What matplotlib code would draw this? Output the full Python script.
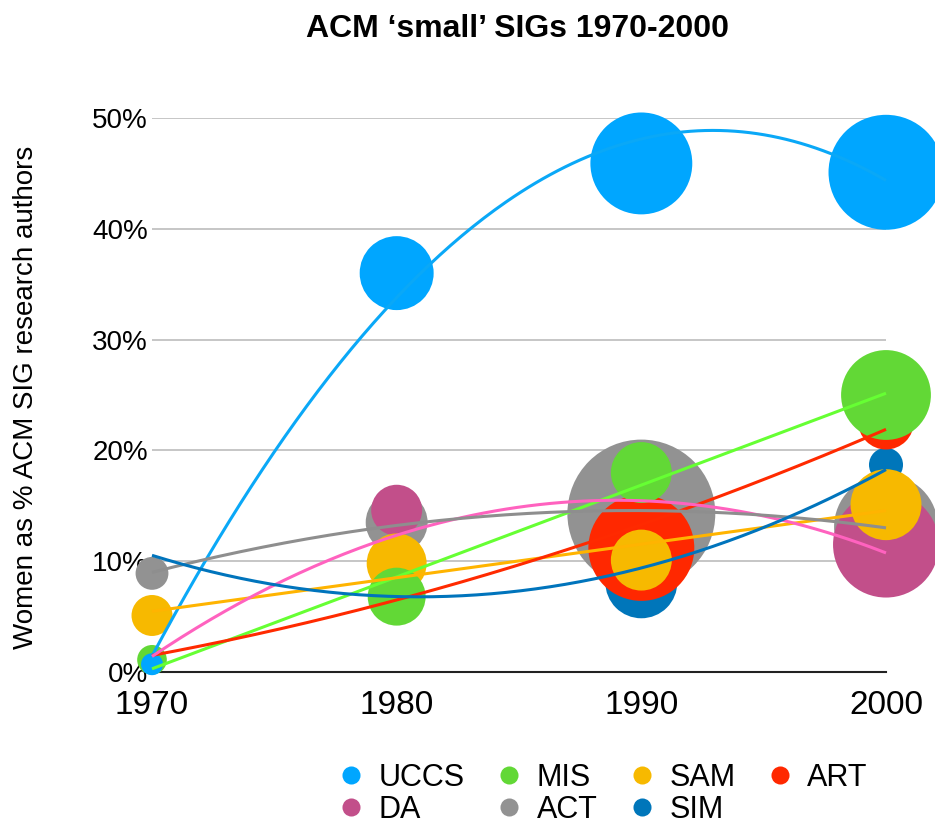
import numpy as np
import matplotlib
matplotlib.use("Agg")
import matplotlib.pyplot as plt
from matplotlib.lines import Line2D

plt.rcParams['font.family'] = ['Liberation Sans', 'DejaVu Sans']

# data: share of women (%) and relative bubble size (authors) per decade
years = [1970, 1980, 1990, 2000]
series_names = ["UCCS", "MIS", "SAM", "ART", "DA", "ACT", "SIM"]

uccs_pct = [0.7, 36.0, 45.9, 45.1]
mis_pct = [1.1, 6.8, 18.0, 25.0]
sam_pct = [5.1, 9.8, 10.1, 15.1]
art_pct = [0.8, 8.6, 11.2, 22.6]
da_pct = [0.65, 14.6, 13.2, 11.5]
act_pct = [8.9, 13.5, 14.3, 13.1]
sim_pct = [10.1, 8.1, 8.1, 18.7]

uccs_size = [12, 137, 260, 331]
mis_size = [22, 84, 93, 202]
sam_size = [42, 90, 93, 126]
art_size = [6, 20, 281, 78]
da_size = [6, 65, 22, 281]
act_size = [27, 96, 548, 270]
sim_size = [1, 20, 130, 29]

title = "ACM \u2018small\u2019 SIGs 1970-2000"
y_label = "Women as % ACM SIG research authors"
y_ticks = [0, 10, 20, 30, 40, 50]

pcts = [uccs_pct, mis_pct, sam_pct, art_pct, da_pct, act_pct, sim_pct]
sizes = [uccs_size, mis_size, sam_size, art_size, da_size, act_size, sim_size]

BUBBLE_COLORS = ["#00A6FF", "#62D836", "#F7B900", "#FF2800", "#C24F8A", "#929292", "#0076BA"]
LINE_COLORS = ["#0AA8F7", "#66FF33", "#FFB400", "#FF2A00", "#FF62BF", "#8E8E8E", "#0074BC"]
TREND_DEG = [2, 1, 1, 2, 2, 2, 2]
BUBBLE_SCALE = 20.7

fig = plt.figure(figsize=(9.35, 8.23), dpi=100)
ax = fig.add_axes([152 / 935, 1 - 672 / 823, 734 / 935, 554 / 823])

x = np.array(years, dtype=float)
xs = np.linspace(years[0], years[-1], 200)
n = len(series_names)
for i in range(n):
    ax.scatter(x, pcts[i], s=np.array(sizes[i]) * BUBBLE_SCALE,
               color=BUBBLE_COLORS[i], linewidths=0, zorder=10 - i, clip_on=False)
    coef = np.polyfit(x - 1985, pcts[i], TREND_DEG[i])
    ax.plot(xs, np.polyval(coef, xs - 1985), color=LINE_COLORS[i], lw=2.2,
            zorder=20, solid_capstyle='butt', clip_on=False)

ax.set_xlim(years[0], years[-1])
ax.set_ylim(0, 50)
ax.set_xticks(years)
ax.set_xticklabels([str(y) for y in years])
ax.set_yticks(y_ticks)
ax.set_yticklabels([f"{v}%" for v in y_ticks])
ax.tick_params(axis='x', length=0, labelsize=24, pad=13)
ax.tick_params(axis='y', length=0, labelsize=20, pad=3)
ax.yaxis.grid(True, color='#c6c6c6', lw=1.4)
ax.set_axisbelow(True)
for side in ['top', 'right', 'left']:
    ax.spines[side].set_visible(False)
ax.spines['bottom'].set_color('#222222')
ax.spines['bottom'].set_linewidth(1.5)
ax.spines['bottom'].set_zorder(1)

fig.text(518 / 935, 1 - 29 / 823, title, ha='center', va='center',
         fontsize=23, fontweight='bold')
fig.text(26 / 935, 1 - 397 / 823, y_label, ha='center', va='center',
         rotation=90, fontsize=20)

# legend fills column-wise, so reorder to get rows UCCS MIS SAM ART / DA ACT SIM
order = [0, 4, 1, 5, 2, 6, 3]
handles = [Line2D([], [], ls='none', marker='o', markersize=13,
                  markerfacecolor=BUBBLE_COLORS[k], markeredgewidth=0) for k in order]
labels = [series_names[k] for k in order]
fig.legend(handles, labels, ncol=4, loc='upper left',
           bbox_to_anchor=(342 / 935, 1 - 763 / 823), frameon=False,
           fontsize=22, handlelength=0.6, handletextpad=0.6,
           columnspacing=1.15, labelspacing=0.05, borderpad=0, borderaxespad=0)

fig.savefig("out.png", dpi=100)
